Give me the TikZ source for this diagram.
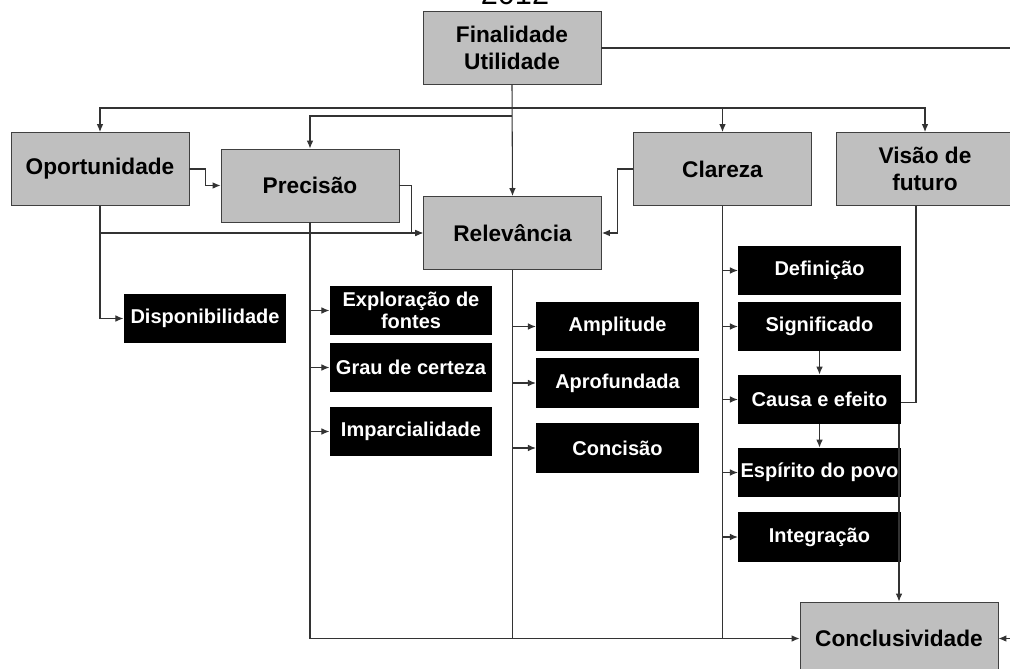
\documentclass[tikz,border=0pt]{standalone}
\usepackage{fontspec}
\setmainfont{Liberation Sans}
\usetikzlibrary{arrows.meta}

\tikzset{
  graybox/.style={draw=black!75, line width=0.7pt, fill=black!25, minimum width=133.5pt,
    minimum height=54.75pt, align=center, inner sep=1pt,
    font=\fontsize{17}{20}\selectfont\bfseries},
  blackbox/.style={fill=black, text=white, minimum width=122pt, minimum height=37pt,
    align=center, inner sep=1pt, font=\fontsize{15}{17}\selectfont\bfseries},
  link/.style={draw=black!80, line width=0.8pt},
  arr/.style={link, -{Latex[length=6pt,width=5pt]}}
}

\begin{document}
\begin{tikzpicture}[x=0.75pt,y=-0.75pt]
\useasboundingbox (0,0) rectangle (1010,668);

% top
\node[anchor=base, font=\fontsize{23}{23}\selectfont] (year) at (515,4) {2012};
\node[graybox] (fin) at (512,48) {Finalidade\\Utilidade};

% main criteria
\node[graybox] (opo) at (100,169) {Oportunidade};
\node[graybox] (pre) at (310,185.5) {Precisão};
\node[graybox] (rel) at (512.5,233) {Relevância};
\node[graybox] (cla) at (722.5,169) {Clareza};
\node[graybox] (vis) at (925,169) {Visão de\\futuro};
\node[graybox, minimum width=148.5pt] (concl) at (899,638.5) {Conclusividade};

% sub criteria
\node[blackbox] (disp) at (205,318.5) {Disponibilidade};
\node[blackbox] (expl) at (411,310.5) {Exploração de\\fontes};
\node[blackbox] (grau) at (411,367.5) {Grau de certeza};
\node[blackbox] (impa) at (411,431.5) {Imparcialidade};
\node[blackbox] (ampl) at (617.5,326.5) {Amplitude};
\node[blackbox] (apro) at (617.5,383) {Aprofundada};
\node[blackbox] (conc) at (617.5,448) {Concisão};
\node[blackbox] (defi) at (819.5,270.5) {Definição};
\node[blackbox] (sign) at (819.5,326.5) {Significado};
\node[blackbox] (caus) at (819.5,399.5) {Causa e efeito};
\node[blackbox] (espi) at (819.5,472.5) {Espírito do povo};
\node[blackbox] (inte) at (819.5,537) {Integração};

% buses from the top
\coordinate (bus1) at (512,108);
\coordinate (bus2) at (512,116);
\draw[arr] (fin.south) -- (rel.north);
\draw[arr] (bus1) -| (opo.north);
\draw[arr] (bus2) -| (pre.north);
\draw[arr] (bus1) -| (cla.north);
\draw[arr] (bus1) -| (vis.north);
\draw[arr] (fin.east) -- ++(440,0) |- (concl.east);

% between criteria
\draw[arr] (opo.east) -- ++(16,0) |- (pre.west);
\draw[arr] (pre.east) -- ++(12,0) |- (rel.west);
\draw[arr] (cla.west) -- ++(-16,0) |- (rel.east);
\draw[arr] (opo.south |- rel.west) -- (rel.west);
\draw[arr] (opo.south) |- (disp.west);

% columns down to the conclusion
\draw[arr] (pre.south) |- (concl.west);
\draw[link] (rel.south) -- (rel.south |- concl.west);
\draw[link] (cla.south) -- (cla.south |- concl.west);
\foreach \n in {expl,grau,impa}
  \draw[arr] (pre.south |- \n.west) -- (\n.west);
\foreach \n in {ampl,apro,conc}
  \draw[arr] (rel.south |- \n.west) -- (\n.west);
\foreach \n in {defi,sign,caus,espi,inte}
  \draw[arr] (cla.south |- \n.west) -- (\n.west);

% clareza chain
\draw[arr] (sign.south) -- (caus.north);
\draw[arr] (caus.south) -- (espi.north);
\draw[link] ([xshift=-6.75pt]vis.south) |- ([yshift=-2.5pt]caus.east);
\draw[arr] (caus.south -| concl.north) -- (concl.north);
\end{tikzpicture}
\end{document}
